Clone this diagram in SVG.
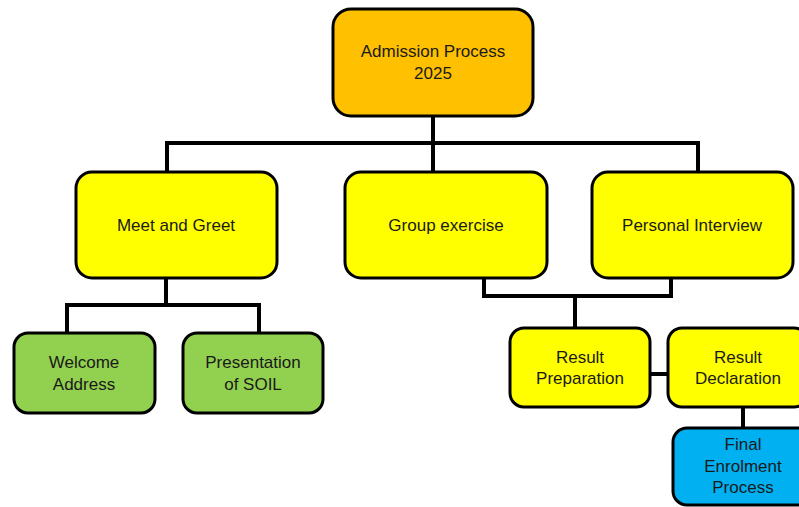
<svg xmlns="http://www.w3.org/2000/svg" width="799" height="507" viewBox="0 0 799 507">
<style>
.n{stroke:#000;stroke-width:3}
.t{font-family:"Liberation Sans",Arial,sans-serif;font-size:17px;fill:#1a1a1a;text-anchor:middle}
.c{fill:none;stroke:#000;stroke-width:4}
</style>
<rect width="799" height="507" fill="#fff"/>
<g id="connectors">
<path class="c" d="M433 116V143M167 172V143H698V172M433 143V172"/>
<path class="c" d="M166 278V305M67 334V305H259V334"/>
<path class="c" d="M484 278V296H671V278M575 296V328"/>
<path class="c" d="M650 374H668"/>
<path class="c" d="M743 407V428"/>
</g>
<g id="admission"><rect class="n" x="333" y="9" width="200" height="107" rx="18" fill="#FFC000"/><text class="t" x="433" y="57">Admission Process</text><text class="t" x="433" y="79">2025</text></g>
<g id="meet"><rect class="n" x="76" y="172" width="201" height="106" rx="16" fill="#FFFF00"/><text class="t" x="176" y="231">Meet and Greet</text></g>
<g id="group"><rect class="n" x="345" y="172" width="202" height="106" rx="16" fill="#FFFF00"/><text class="t" x="446" y="231">Group exercise</text></g>
<g id="interview"><rect class="n" x="592" y="172" width="201" height="106" rx="16" fill="#FFFF00"/><text class="t" x="692" y="231">Personal Interview</text></g>
<g id="welcome"><rect class="n" x="14" y="333" width="141" height="80" rx="14" fill="#92D050"/><text class="t" x="84" y="368">Welcome</text><text class="t" x="84" y="390">Address</text></g>
<g id="presentation"><rect class="n" x="183" y="333" width="140" height="80" rx="14" fill="#92D050"/><text class="t" x="253" y="368">Presentation</text><text class="t" x="253" y="390">of SOIL</text></g>
<g id="prep"><rect class="n" x="510" y="328" width="140" height="79" rx="14" fill="#FFFF00"/><text class="t" x="580" y="363">Result</text><text class="t" x="580" y="384">Preparation</text></g>
<g id="decl"><rect class="n" x="668" y="328" width="140" height="79" rx="14" fill="#FFFF00"/><text class="t" x="738" y="363">Result</text><text class="t" x="738" y="384">Declaration</text></g>
<g id="final"><rect class="n" x="673" y="428" width="140" height="77" rx="14" fill="#00B0F0"/><text class="t" x="743" y="450">Final</text><text class="t" x="743" y="472">Enrolment</text><text class="t" x="743" y="493">Process</text></g>
</svg>
